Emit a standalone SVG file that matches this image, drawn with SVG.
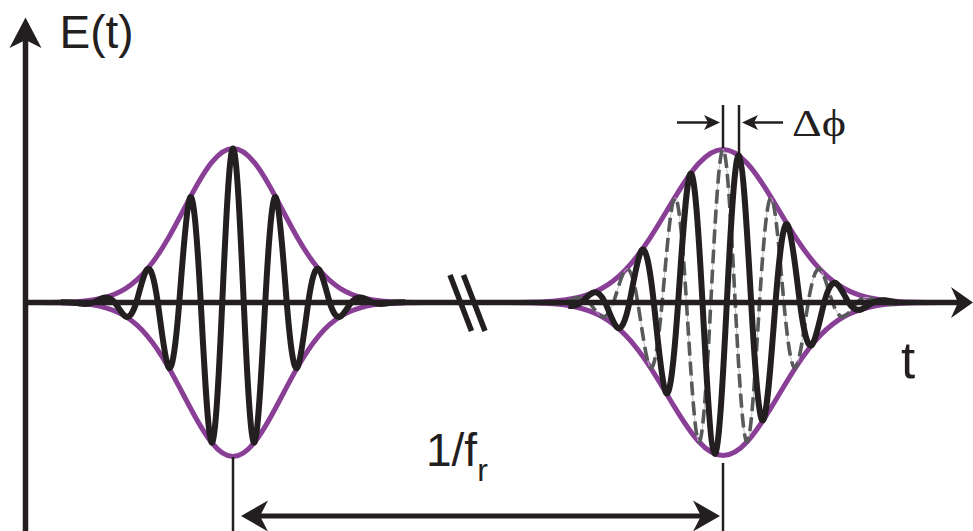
<svg xmlns="http://www.w3.org/2000/svg" width="973" height="531" viewBox="0 0 973 531">
<style>
.env{fill:none;stroke:#8a3f97;stroke-width:5;}
.car{fill:none;stroke:#231f20;stroke-width:6;stroke-linejoin:round;}
.ref{fill:none;stroke:#58595b;stroke-width:3.6;stroke-dasharray:14 6;}
.refthin{fill:none;stroke:#bcbec0;stroke-width:1;}
.ax{fill:none;stroke:#231f20;stroke-width:5.5;}
.ah{fill:#231f20;stroke:none;}
.tick{fill:none;stroke:#231f20;stroke-width:2.5;}
.dim{fill:none;stroke:#231f20;stroke-width:5;}
.sm{fill:none;stroke:#231f20;stroke-width:2.5;}
.lbl{font-family:"Liberation Sans",Arial,sans-serif;fill:#231f20;}
.grk{font-family:"Liberation Serif","DejaVu Serif","Times New Roman",serif;fill:#231f20;}
</style>
<defs>
<path id="envL" vector-effect="non-scaling-stroke" d="M39.5 302.44 C46.67 302.4 53.83 302.34 61 302.17 S75.33 301.74 82.5 301.12 S96.83 299.54 104 297.69 S118.33 293.07 125.5 288.62 S139.83 277.96 147 269.49 S161.33 250.21 168.5 237.74 S182.83 211.17 190 197.72 S204.33 171.61 211.5 162.63 S225.83 148.5 233 148.5 S247.33 153.65 254.5 162.63 S268.83 184.27 276 197.72 S290.33 225.27 297.5 237.74 S311.83 261.02 319 269.49 S333.33 284.17 340.5 288.62 S354.83 295.84 362 297.69 S376.33 300.5 383.5 301.12 S397.83 302 405 302.17 S419.33 302.4 426.5 302.44"/>
<path id="carL" vector-effect="non-scaling-stroke" d="M61 302.17 C64.58 302.09 68.17 302.14 71.75 302.5 S78.92 303.57 82.5 303.88 S89.67 303.88 93.25 302.5 S100.42 298.62 104 297.69 S111.17 298.12 114.75 302.5 S121.92 314.15 125.5 316.38 S132.67 313.98 136.25 302.5 S143.42 273.73 147 269.49 S154.17 277.7 157.75 302.5 S164.92 361.03 168.5 367.26 S175.67 346.68 179.25 302.5 S186.42 204.44 190 197.72 S197.17 237.57 200.75 302.5 S207.92 437.88 211.5 442.37 S218.67 381.22 222.25 302.5 S229.42 148.5 233 148.5 S240.17 223.78 243.75 302.5 S250.92 446.86 254.5 442.37 S261.67 367.43 265.25 302.5 S272.42 191 276 197.72 S283.17 258.32 286.75 302.5 S293.92 373.49 297.5 367.26 S304.67 327.3 308.25 302.5 S315.42 265.25 319 269.49 S326.17 291.02 329.75 302.5 S336.92 318.61 340.5 316.38 S347.67 306.88 351.25 302.5 S358.42 296.76 362 297.69 S369.17 301.12 372.75 302.5 S379.92 304.19 383.5 303.88 S390.67 302.86 394.25 302.5 S401.42 302.09 405 302.17"/>
</defs>

<g id="pulse1">
<use href="#envL" class="env"/>
<use href="#envL" class="env" transform="matrix(1 0 0 -1 0 605)"/>
<use href="#carL" class="car"/>
</g>

<g id="pulse2">
<use href="#envL" class="env" transform="matrix(1.13256 0 0 0.99351 459.114 1.963)"/>
<use href="#envL" class="env" transform="matrix(1.13256 0 0 -0.99351 459.114 603.04)"/>
<use href="#carL" class="refthin" transform="matrix(1.13256 0 0 0.99351 459.114 1.963)"/>
<use href="#carL" class="ref" transform="matrix(1.13256 0 0 0.99351 459.114 1.963)"/>
<path class="car" d="M568.55 305.68 C572.61 306.33 576.67 305.5 580.73 302.5 S588.84 294.38 592.9 292.7 S601.02 294.12 605.08 302.5 S613.19 323.94 617.25 327.41 S625.37 321.84 629.43 302.5 S637.54 255.91 641.6 250.31 S649.72 265.7 653.78 302.5 S661.89 385.93 665.95 392.71 S674.07 360.27 678.13 302.5 S686.24 179.42 690.3 173.88 S698.42 227.68 702.48 302.5 S710.59 452.12 714.65 453.78 S722.77 382.42 726.83 302.5 S734.94 152.64 739 155.73 S747.12 232.07 751.18 302.5 S759.29 426.22 763.35 419.97 S771.47 353.69 775.53 302.5 S783.64 218.34 787.7 224.95 S795.82 271.8 799.88 302.5 S807.99 349.69 812.05 344.73 S820.17 317.68 824.23 302.5 S832.34 280.69 836.4 283.53 S844.52 296.31 848.58 302.5 S856.69 310.81 860.75 309.53 S868.87 304.58 872.93 302.5 S881.04 299.89 885.1 300.35 S893.22 301.92 897.28 302.5"/>
</g>

<g id="axes">
<line class="ax" x1="25.5" y1="531" x2="25.5" y2="40"/>
<polygon class="ah" points="25.5,17.5 41.5,48 25.5,40 9.5,48"/>
<line class="ax" x1="25.5" y1="302.5" x2="959" y2="302.5"/>
<polygon class="ah" points="973,302.5 951,287 958,302.5 951,318"/>
<line class="ax" x1="450" y1="275" x2="471.5" y2="331"/>
<line class="ax" x1="463.5" y1="275" x2="485" y2="331"/>
</g>

<g id="connectors">
<line class="tick" x1="233" y1="457" x2="233" y2="531"/>
<line class="tick" x1="723" y1="463" x2="723" y2="531"/>
<line class="dim" x1="259" y1="516" x2="702" y2="516"/>
<polygon class="ah" points="241,516 268,500.5 260,516 268,531.5"/>
<polygon class="ah" points="720,516 693,500.5 701,516 693,531.5"/>
<line class="sm" x1="723" y1="105" x2="723" y2="148"/>
<line class="sm" x1="739" y1="105" x2="739" y2="154"/>
<line class="sm" x1="677" y1="122.5" x2="709" y2="122.5"/>
<polygon class="ah" points="720,122.5 704,115 708,122.5 704,130"/>
<line class="sm" x1="783" y1="122.5" x2="752" y2="122.5"/>
<polygon class="ah" points="742,122.5 758,115 754,122.5 758,130"/>
</g>

<g id="labels">
<text class="lbl" x="59.5" y="48" font-size="46">E(t)</text>
<text class="lbl" x="901" y="378" font-size="51">t</text>
<text class="lbl" x="426" y="466" font-size="46">1/f<tspan font-size="32" dy="15">r</tspan></text>
<text class="grk" x="792" y="136" font-size="37" textLength="54" lengthAdjust="spacingAndGlyphs">Δϕ</text>
</g>
</svg>
